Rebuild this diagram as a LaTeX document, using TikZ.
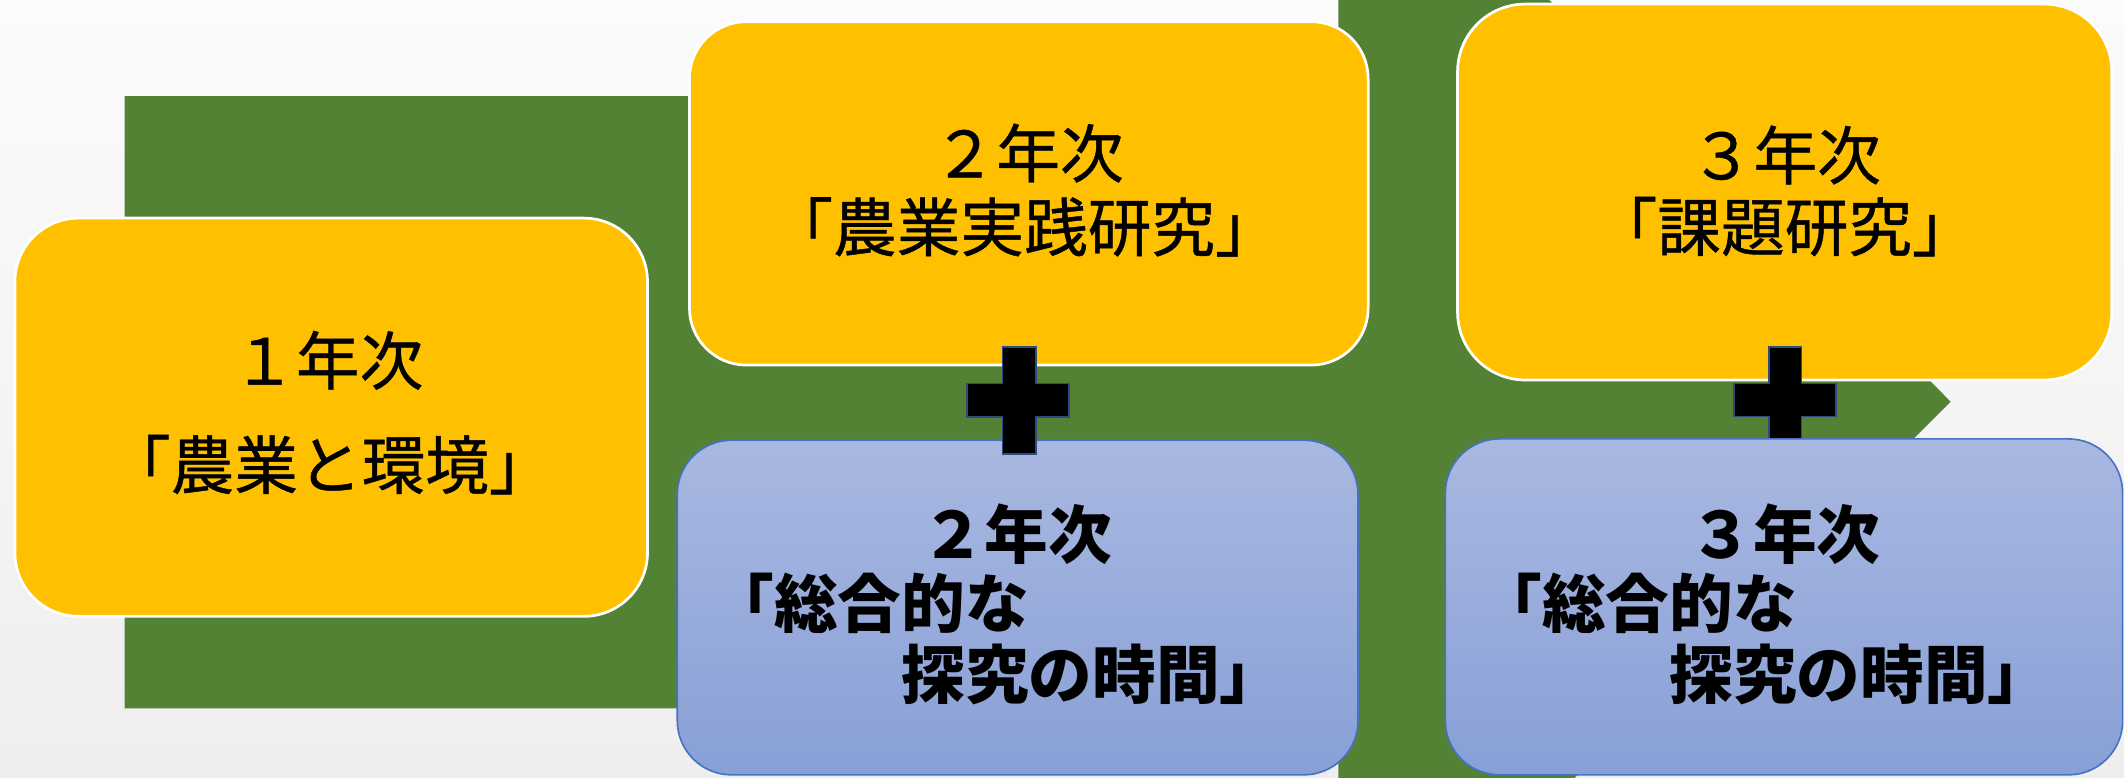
\documentclass[tikz,border=0pt]{standalone}
\usepackage{fontspec}
\newfontfamily\jp{Noto Sans CJK JP}
\newfontfamily\jpm[FakeBold=0.7]{Noto Sans CJK JP}
\definecolor{boxyellow}{HTML}{FFC000}
\definecolor{arrowgreen}{HTML}{548235}
\definecolor{bluetop}{HTML}{A9B8E1}
\definecolor{bluebot}{HTML}{88A0D6}
\definecolor{blueedge}{HTML}{4472C4}
\definecolor{plusedge}{HTML}{2F4A80}
\definecolor{bgtop}{HTML}{FBFBFB}
\definecolor{bgbot}{HTML}{EFEEEE}
\tikzset{
  yellowbox/.style={fill=boxyellow, draw=white, line width=1pt, inner sep=0pt},
  bluebox/.style={top color=bluetop, bottom color=bluebot, draw=blueedge, line width=0.6pt, inner sep=0pt},
  ytext/.style={font=\jpm\fontsize{23.5}{26}\selectfont, inner sep=0pt, text=black},
  btext/.style={font=\jp\bfseries\fontsize{23.5}{26}\selectfont, inner sep=0pt, text=black},
  plussign/.style={fill=black, draw=plusedge, line width=0.6pt},
}
\begin{document}
\begin{tikzpicture}[x=0.5pt,y=-0.5pt]
\useasboundingbox (0,0) rectangle (1568,574);
\shade[top color=bgtop, bottom color=bgbot] (0,0) rectangle (1568,574);
% green arrow
\begin{scope}
\clip (0,0) rectangle (1568,574);
\fill[arrowgreen] (92,71) -- (988,71) -- (988,-156) -- (1440,296.5) -- (988,749) -- (988,523) -- (92,523) -- cycle;
\end{scope}
% yellow boxes
\node[yellowbox, rounded corners=23.5pt, minimum width=233.5pt, minimum height=147pt] (y1) at (244.5,308) {};
\node[yellowbox, rounded corners=21pt, minimum width=250.5pt, minimum height=126.75pt] (y2) at (759.5,142.75) {};
\node[yellowbox, rounded corners=25pt, minimum width=241.5pt, minimum height=138.75pt] (y3) at (1317.5,141.75) {};
% plus 3 (behind blue box 3)
\path[plussign] (1306,256) -- (1330,256) -- (1330,283) -- (1355.5,283) -- (1355.5,307.6) -- (1330,307.6) -- (1330,326) -- (1306,326) -- (1306,307.6) -- (1280,307.6) -- (1280,283) -- (1306,283) -- cycle;
% blue boxes
\node[bluebox, rounded corners=20pt, minimum width=251.25pt, minimum height=123.5pt] (b2) at (751.25,448.5) {};
\node[bluebox, rounded corners=20pt, minimum width=250pt, minimum height=124pt] (b3) at (1317,448) {};
% plus 2 (over blue box 2)
\path[plussign] (740,256) -- (765,256) -- (765,283) -- (789,283) -- (789,308) -- (765,308) -- (765,335) -- (740,335) -- (740,308) -- (714,308) -- (714,283) -- (740,283) -- cycle;
% texts
\node[ytext] (t1a) at (242,266) {１年次};
\node[ytext] (t1b) at (243.5,343) {「農業と環境」};
\node[ytext] (t2a) at (759,113) {２年次};
\node[ytext] (t2b) at (756,167.5) {「農業実践研究」};
\node[ytext] (t3a) at (1318,114.4) {３年次};
\node[ytext] (t3b) at (1317.5,167.3) {「課題研究」};
\node[btext] (s2a) at (750.6,394) {２年次};
\node[btext, anchor=west] (s2b) at (524,445.5) {「総合的な};
\node[btext, anchor=west] (s2c) at (665,497.6) {探究の時間」};
\node[btext] (s3a) at (1317.6,394) {３年次};
\node[btext, anchor=west] (s3b) at (1091,445.5) {「総合的な};
\node[btext, anchor=west] (s3c) at (1232,497.6) {探究の時間」};
\end{tikzpicture}
\end{document}
